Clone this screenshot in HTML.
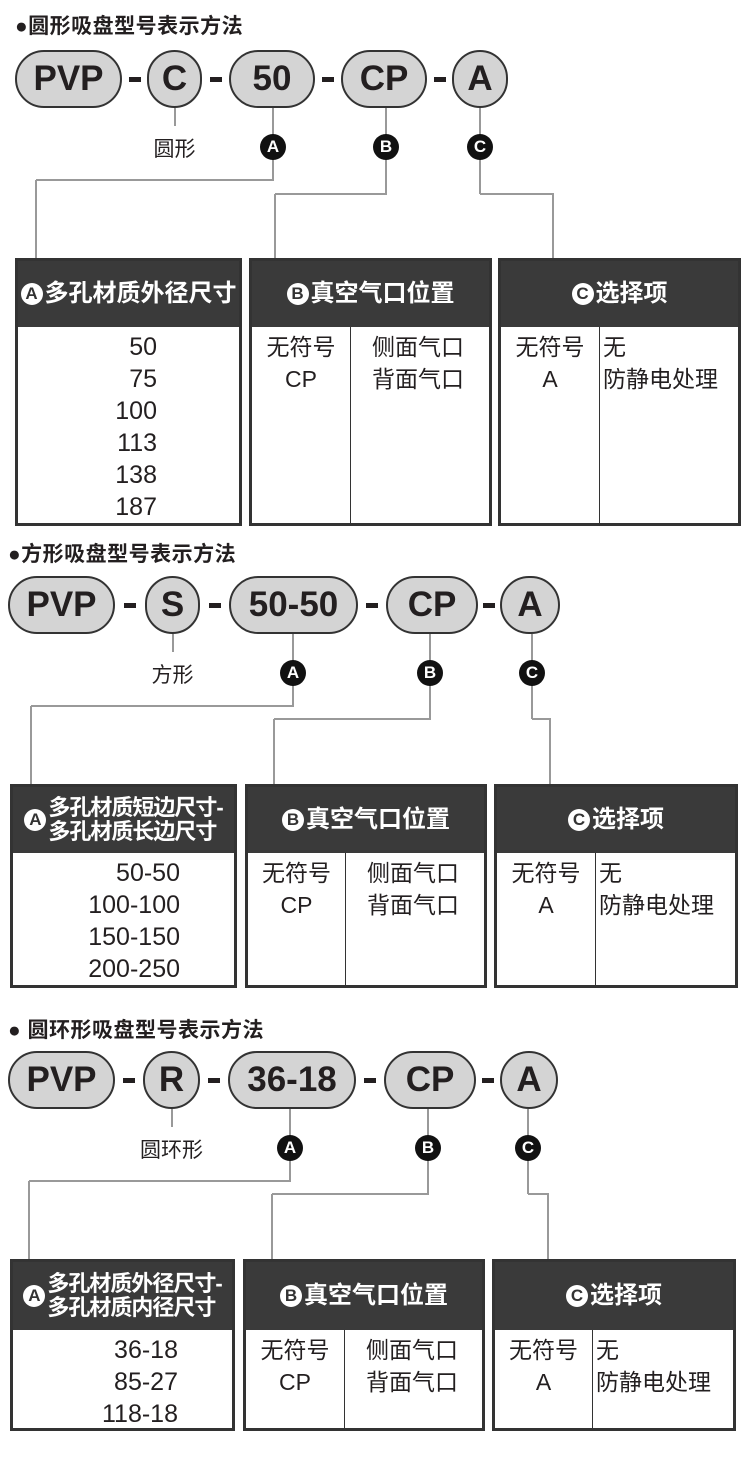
<!DOCTYPE html>
<html><head><meta charset="utf-8">
<style>
body{margin:0;width:750px;height:1470px;background:#fff;position:relative;overflow:hidden;font-family:"Liberation Sans","Noto Sans CJK SC",sans-serif;color:#231f20}
.a{position:absolute}
.pill{position:absolute;background:#d4d4d4;border:2px solid #333;box-sizing:border-box;border-radius:30px;font-weight:bold;font-size:35px;display:flex;align-items:center;justify-content:center}
.dash{position:absolute;width:12px;height:5px;background:#231f20}
.ln{position:absolute;background:#999}
.mk{position:absolute;width:26px;height:26px;border-radius:50%;background:#111;color:#fff;font-weight:bold;font-size:17px;display:flex;align-items:center;justify-content:center}
.tb{position:absolute;border:3px solid #333;box-sizing:border-box;background:#fff}
.hd{position:absolute;left:0;right:0;top:0;background:#3a3a3a;color:#fff;font-weight:bold;font-size:24px;display:flex;align-items:center;justify-content:center;line-height:1.05;white-space:nowrap}
.two{font-size:22px;letter-spacing:-1px;line-height:1.1}
.wc{display:inline-flex;width:22px;height:22px;border-radius:50%;background:#fff;color:#333;font-size:17px;align-items:center;justify-content:center;margin-right:2px;letter-spacing:0;flex:none}
.vd{position:absolute;width:1px;background:#333}
.tx{position:absolute;font-size:23px;line-height:32px}
.ttl{position:absolute;font-size:21px;font-weight:bold;letter-spacing:0.5px}
</style></head><body>
<script>
function el(c,s,h){document.write('<div class="'+c+'" style="'+s+'">'+(h||'')+'</div>');}
function sec(o){
 el('ttl','left:'+o.tx+'px;top:'+(o.ty-14)+'px',o.title);
 var cy=o.cy;
 o.pills.forEach(function(p,i){el('pill','left:'+p[0]+'px;top:'+(cy-29)+'px;width:'+(p[1]-p[0])+'px;height:58px',p[2]);
  if(i<4){var nx=o.pills[i+1][0];el('dash','left:'+((p[1]+nx)/2-6)+'px;top:'+(cy-2)+'px');}});
 var s=o.pills[1];var sx=(s[0]+s[1])/2;
 el('ln','left:'+(sx-1)+'px;top:'+(cy+29)+'px;width:2px;height:18px');
 el('a','left:'+(sx-50)+'px;width:100px;text-align:center;top:'+(o.my-14)+'px;font-size:21px',o.lab);
 var L=['A','B','C'];
 o.mk.forEach(function(m,i){
  el('ln','left:'+(m-1)+'px;top:'+(cy+29)+'px;width:2px;height:'+(o.my-cy-29)+'px');
  var hy=i==0?o.h1:o.h2;
  el('ln','left:'+(m-1)+'px;top:'+o.my+'px;width:2px;height:'+(hy-o.my)+'px');
  var t=o.tgt[i];
  el('ln','left:'+Math.min(t,m)+'px;top:'+(hy-1)+'px;height:2px;width:'+(Math.abs(t-m)+1)+'px');
  el('ln','left:'+(t-1)+'px;top:'+hy+'px;width:2px;height:'+(o.tt-hy)+'px');
  el('mk','left:'+(m-13)+'px;top:'+(o.my-13)+'px',L[i]);});
 var T=o.tabs,H=o.hh,B=o.tb;
 el('tb','left:'+T[0][0]+'px;top:'+o.tt+'px;width:'+(T[0][1]-T[0][0])+'px;height:'+(B-o.tt)+'px',
  '<div class="hd'+(o.two?' two':'')+'" style="height:'+H+'px">'+o.ah+'</div>'+o.av.map(function(v,j){return '<div class="tx" style="right:'+o.ar+'px;top:'+(H+4+j*32)+'px;font-size:25px">'+v+'</div>'}).join(''));
 [[1,'<span class="wc">B</span>真空气口位置',['无符号','CP'],['侧面气口','背面气口']],[2,'<span class="wc">C</span>选择项',['无符号','A'],['无','防静电处理']]].forEach(function(q){
  var t=T[q[0]],w=t[1]-t[0],d=t[2]-t[0]-3;
  el('tb','left:'+t[0]+'px;top:'+o.tt+'px;width:'+w+'px;height:'+(B-o.tt)+'px',
   '<div class="hd" style="height:'+H+'px">'+q[1]+'</div><div class="vd" style="left:'+d+'px;top:'+H+'px;bottom:0"></div>'+
   q[2].map(function(v,j){return '<div class="tx" style="left:0;width:'+d+'px;text-align:center;top:'+(H+4+j*32)+'px">'+v+'</div>'}).join('')+
   q[3].map(function(v,j){return '<div class="tx" style="left:'+(d+(q[0]==1?22:4))+'px;top:'+(H+4+j*32)+'px">'+v+'</div>'}).join(''));});
}
sec({title:'●圆形吸盘型号表示方法',tx:15,ty:24,cy:79,pills:[[15,122,'PVP'],[147,202,'C'],[229,315,'50'],[341,427,'CP'],[452,508,'A']],lab:'圆形',my:147,mk:[273,386,480],h1:180,h2:194,tgt:[36,275,553],tt:258,tb:526,hh:66,
 tabs:[[15,242],[249,492,350],[498,741,599]],ah:'<span class="wc">A</span>多孔材质外径尺寸',av:['50','75','100','113','138','187'],ar:82});
sec({title:'●方形吸盘型号表示方法',tx:8,ty:552,cy:605,pills:[[8,115,'PVP'],[145,200,'S'],[229,358,'50-50'],[386,478,'CP'],[500,560,'A']],lab:'方形',my:673,mk:[293,430,532],h1:706,h2:719,tgt:[31,274,550],tt:784,tb:988,hh:66,two:1,
 tabs:[[10,237],[245,487,345],[494,738,595]],ah:'<span class="wc">A</span><span>多孔材质短边尺寸-<br>多孔材质长边尺寸</span>',av:['50-50','100-100','150-150','200-250'],ar:54});
sec({title:'● 圆环形吸盘型号表示方法',tx:8,ty:1028,cy:1080,pills:[[8,115,'PVP'],[143,200,'R'],[228,356,'36-18'],[384,476,'CP'],[500,558,'A']],lab:'圆环形',my:1148,mk:[290,428,528],h1:1181,h2:1194,tgt:[29,272,548],tt:1259,tb:1431,hh:68,two:1,
 tabs:[[10,235],[243,485,344],[492,736,592]],ah:'<span class="wc">A</span><span>多孔材质外径尺寸-<br>多孔材质内径尺寸</span>',av:['36-18','85-27','118-18'],ar:54});
</script>
</body></html>
